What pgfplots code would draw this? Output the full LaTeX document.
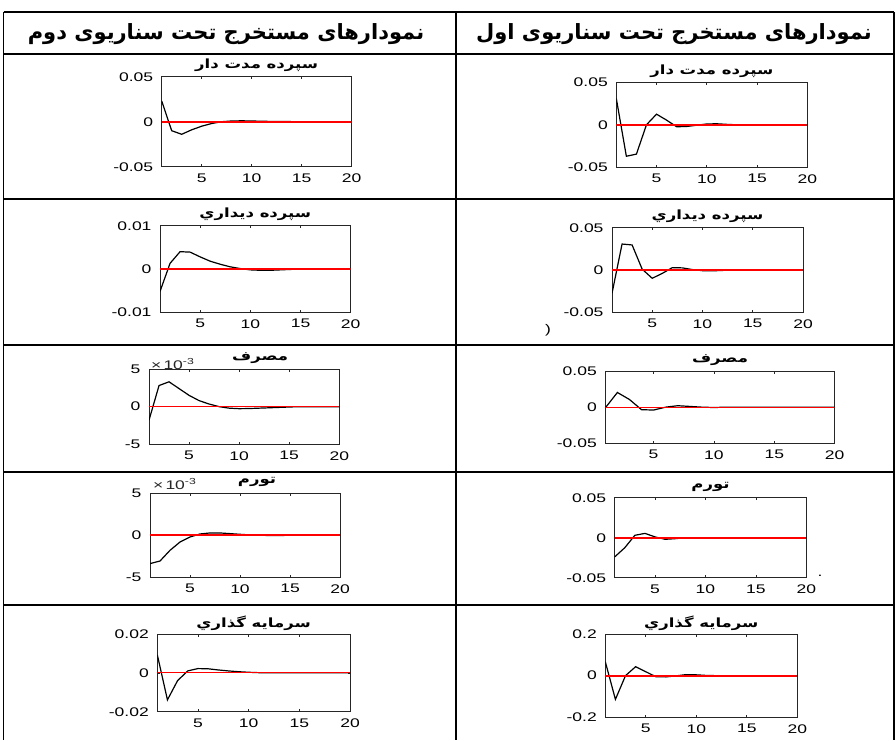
\documentclass[border=0pt]{standalone}
\usepackage{fontspec}
\usepackage{pgfplots}
\pgfplotsset{compat=1.18}
\TeXXeTstate=1
\newfontfamily\arabicfont[Script=Arabic]{DejaVu Sans}
\newfontfamily\arabicwide[Script=Arabic, FakeStretch=1.3]{DejaVu Sans}
\newfontfamily\tickfont[FakeStretch=1.4]{Liberation Sans}
\newcommand\ticklab{\tickfont\fontsize{12.5}{13}\selectfont}
\newcommand\ptitle{\arabicwide\bfseries\fontsize{12.7}{13}\selectfont}
\definecolor{axgray}{HTML}{262626}

\pgfplotsset{
  irf/.style={
    scale only axis, anchor=south west,
    xmin=1, xmax=20,
    xtick={5,10,15,20}, xticklabels={5,10,15,20},
    scaled x ticks=false, scaled y ticks=false,
    axis line style={axgray, line width=0.9pt},
    tick style={axgray, line width=0.6pt},
    tick align=inside, major tick length=2.5pt,
    ticklabel style={font=\ticklab, text=black},
    xticklabel style={yshift=-3.5pt},
    yticklabel style={xshift=-5pt},
    title style={font=\ptitle, at={(0.5,1)}, anchor=center, yshift=5pt},
  },
  curve/.style={black, line width=1.2pt},
  zthick/.style={red, line width=1.7pt},
  zthin/.style={red, line width=0.8pt},
}

\begin{document}
\begin{tikzpicture}[x=1pt, y=1pt]
\path[use as bounding box] (0,0) rectangle (896,740);

% table frame
\begin{scope}[line width=1.7pt, black]
\draw (3.5,728) -- (894,728);
\foreach \yy in {54,199,345,472,605} \draw (3.5,740-\yy) -- (894,740-\yy);
\draw (3.5,728) -- (3.5,0);
\draw (455.7,728) -- (455.7,0);
\draw (894,728) -- (894,0);
\end{scope}

\node[font=\arabicfont\bfseries\fontsize{21}{22}\selectfont] at (226,706) {\beginR نمودارهای مستخرج تحت سناریوی دوم\endR};
\node[font=\arabicfont\bfseries\fontsize{21}{22}\selectfont] at (674,706) {\beginR نمودارهای مستخرج تحت سناریوی اول\endR};

% ---------- row 1
\begin{axis}[irf, at={(161.7pt,573.3pt)}, width=190pt, height=90pt,
  ymin=-0.05, ymax=0.05, ytick={-0.05,0,0.05}, yticklabels={-0.05,0,0.05},
  title={\beginR سپرده مدت دار\endR}]
\addplot[curve] coordinates {(1,0.023) (2,-0.010) (3,-0.014) (4,-0.009) (5,-0.005) (6,-0.002) (7,0.0) (8,0.0008) (9,0.001) (10,0.0008) (11,0.0005) (12,0.0003) (13,0.0002) (14,0.0001) (15,0) (16,0) (17,0) (18,0) (19,0) (20,0)};
\addplot[zthick] coordinates {(1,0) (20,0)};
\end{axis}

\begin{axis}[irf, at={(616.3pt,572.7pt)}, width=191pt, height=85pt,
  ymin=-0.05, ymax=0.05, ytick={-0.05,0,0.05}, yticklabels={-0.05,0,0.05},
  title={\beginR سپرده مدت دار\endR}]
\addplot[curve] coordinates {(1,0.031) (2,-0.037) (3,-0.0345) (4,0.0) (5,0.0125) (6,0.0055) (7,-0.0023) (8,-0.002) (9,-0.0005) (10,0.001) (11,0.0012) (12,0.0005) (13,0) (14,-0.0002) (15,0) (16,0) (17,0) (18,0) (19,0) (20,0)};
\addplot[zthick] coordinates {(1,0) (20,0)};
\end{axis}

% ---------- row 2
\begin{axis}[irf, at={(160pt,427.7pt)}, width=190.7pt, height=86.6pt,
  ymin=-0.01, ymax=0.01, ytick={-0.01,0,0.01}, yticklabels={-0.01,0,0.01},
  title={\beginR سپرده ديداري\endR}]
\addplot[curve] coordinates {(1,-0.0052) (2,0.0013) (3,0.0040) (4,0.0039) (5,0.0028) (6,0.0018) (7,0.0011) (8,0.0005) (9,0.0001) (10,-0.0002) (11,-0.0003) (12,-0.0003) (13,-0.0002) (14,-0.0001) (15,0) (16,0) (17,0) (18,0) (19,0) (20,0)};
\addplot[zthick] coordinates {(1,0) (20,0)};
\end{axis}

\begin{axis}[irf, at={(612pt,427.7pt)}, width=191pt, height=84.6pt,
  ymin=-0.05, ymax=0.05, ytick={-0.05,0,0.05}, yticklabels={-0.05,0,0.05},
  title={\beginR سپرده ديداري\endR}]
\addplot[curve] coordinates {(1,-0.0276) (2,0.0307) (3,0.0296) (4,0.001) (5,-0.0098) (6,-0.004) (7,0.0028) (8,0.0025) (9,0.0005) (10,-0.0008) (11,-0.001) (12,-0.0005) (13,0) (14,0) (15,0) (16,0) (17,0) (18,0) (19,0) (20,0)};
\addplot[zthick] coordinates {(1,0) (20,0)};
\end{axis}
\node[font=\ticklab] at (548,410) {)};

% ---------- row 3
\begin{axis}[irf, at={(149pt,295.7pt)}, width=190.3pt, height=75.3pt,
  ymin=-5, ymax=5, ytick={-5,0,5}, yticklabels={-5,0,5},
  title={\beginR مصرف\endR}, title style={xshift=16pt}]
\addplot[curve] coordinates {(1,-1.8) (2,2.8) (3,3.3) (4,2.4) (5,1.5) (6,0.8) (7,0.35) (8,0) (9,-0.2) (10,-0.27) (11,-0.25) (12,-0.2) (13,-0.15) (14,-0.1) (15,-0.05) (16,0) (17,0) (18,0) (19,0) (20,0)};
\addplot[zthin] coordinates {(1,0) (20,0)};
\end{axis}
\node[font=\ticklab, text=axgray, anchor=west, inner sep=0pt] at (151,376) {×\,10\textsuperscript{-3}};

\begin{axis}[irf, at={(605.3pt,296.7pt)}, width=229.4pt, height=72.3pt,
  ymin=-0.05, ymax=0.05, ytick={-0.05,0,0.05}, yticklabels={-0.05,0,0.05},
  title={\beginR مصرف\endR}]
\addplot[curve] coordinates {(1,-0.001) (2,0.0203) (3,0.0106) (4,-0.0035) (5,-0.004) (6,0.0) (7,0.002) (8,0.001) (9,0) (10,-0.0005) (11,0) (12,0) (13,0) (14,0) (15,0) (16,0) (17,0) (18,0) (19,0) (20,0)};
\addplot[zthin] coordinates {(1,0) (20,0)};
\end{axis}

% ---------- row 4
\begin{axis}[irf, at={(150pt,162.7pt)}, width=190pt, height=84pt,
  ymin=-5, ymax=5, ytick={-5,0,5}, yticklabels={-5,0,5},
  title={\beginR تورم\endR}, title style={xshift=12pt}]
\addplot[curve] coordinates {(1,-3.37) (2,-3.06) (3,-1.79) (4,-0.8) (5,-0.2) (6,0.16) (7,0.28) (8,0.28) (9,0.2) (10,0.12) (11,0.05) (12,0) (13,-0.02) (14,-0.02) (15,0) (16,0) (17,0) (18,0) (19,0) (20,0)};
\addplot[zthick] coordinates {(1,0) (20,0)};
\end{axis}
\node[font=\ticklab, text=axgray, anchor=west, inner sep=0pt] at (153,256) {×\,10\textsuperscript{-3}};

\begin{axis}[irf, at={(614.7pt,162.3pt)}, width=191.6pt, height=80pt,
  ymin=-0.05, ymax=0.05, ytick={-0.05,0,0.05}, yticklabels={-0.05,0,0.05},
  title={\beginR تورم\endR}]
\addplot[curve] coordinates {(1,-0.024) (2,-0.0125) (3,0.003) (4,0.0054) (5,0.001) (6,-0.002) (7,-0.0012) (8,0) (9,0) (10,0) (11,0) (12,0) (13,0) (14,0) (15,0) (16,0) (17,0) (18,0) (19,0) (20,0)};
\addplot[zthick] coordinates {(1,0) (20,0)};
\end{axis}
\node[font=\ticklab] at (820,164) {.};

% ---------- row 5
\begin{axis}[irf, at={(157.3pt,28.3pt)}, width=192.7pt, height=77.7pt,
  ymin=-0.02, ymax=0.02, ytick={-0.02,0,0.02}, yticklabels={-0.02,0,0.02},
  title={\beginR سرمايه گذاري\endR}]
\addplot[curve] coordinates {(1,0.0093) (2,-0.0139) (3,-0.004) (4,0.001) (5,0.0022) (6,0.0021) (7,0.0015) (8,0.001) (9,0.0006) (10,0.0003) (11,0.0001) (12,0) (13,0) (14,0) (15,0) (16,0) (17,0) (18,0) (19,0) (20,0)};
\addplot[zthin] coordinates {(1,0) (20,0)};
\end{axis}

\begin{axis}[irf, at={(605.3pt,22.7pt)}, width=192pt, height=83.3pt,
  ymin=-0.2, ymax=0.2, ytick={-0.2,0,0.2}, yticklabels={-0.2,0,0.2},
  title={\beginR سرمايه گذاري\endR}]
\addplot[curve] coordinates {(1,0.067) (2,-0.114) (3,0) (4,0.043) (5,0.019) (6,-0.005) (7,-0.006) (8,-0.001) (9,0.005) (10,0.004) (11,0.001) (12,0) (13,0) (14,0) (15,0) (16,0) (17,0) (18,0) (19,0) (20,0)};
\addplot[zthick] coordinates {(1,0) (20,0)};
\end{axis}
\end{tikzpicture}
\end{document}
